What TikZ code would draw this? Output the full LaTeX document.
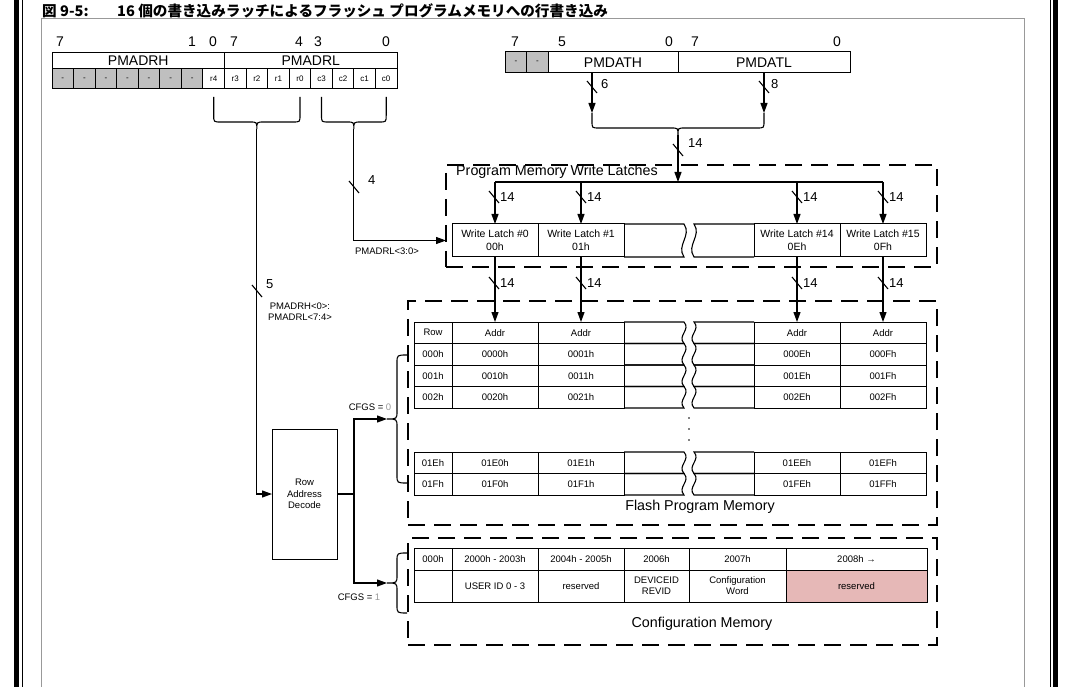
\documentclass[tikz,border=0pt]{standalone}
\usepackage{fontspec}
\setmainfont{Liberation Sans}
\newfontfamily\jafont{Noto Sans CJK JP}
\usepackage{xcolor}
\usepackage{tikz}
\usetikzlibrary{arrows.meta, positioning, calc}
\definecolor{cfgpink}{HTML}{E6B8B7}

\begin{document}
\begin{tikzpicture}[
    x=1pt, y=-1pt,
    line/.style={draw=black, line width=1.1pt},
    arrow/.style={line, -{Triangle[length=10pt, width=7pt]}},
    reg/.style={rectangle, draw=black, line width=1pt, inner sep=0pt, outer sep=0pt, font=\fontsize{14}{16}\selectfont},
    bit/.style={reg, fill=#1, minimum width=21.56pt, minimum height=20pt, font=\fontsize{8}{9}\selectfont},
    bit/.default=white,
    cell/.style={rectangle, draw=black, line width=1pt, inner sep=0pt, outer sep=0pt, align=center, font=\fontsize{9.5}{11}\selectfont},
    num/.style={inner sep=0pt, font=\fontsize{14}{16}\selectfont},
    wire/.style={inner sep=0pt, anchor=west, font=\fontsize{13}{15}\selectfont},
    note/.style={inner sep=0pt, align=center, font=\fontsize{9.5}{11}\selectfont},
    head/.style={inner sep=0pt, font=\fontsize{14.3}{16}\selectfont},
    dashbox/.style={rectangle, draw=black, line width=1.2pt, dash pattern=on 17pt off 9pt, inner sep=0pt, outer sep=0pt},
    title/.style={inner sep=0pt, anchor=west, font=\jafont\bfseries\fontsize{14.6}{16}\selectfont}
]
\useasboundingbox (0,0) rectangle (1074,687);

% page rules and figure frame
\fill (14,0) rectangle (18.5,687);
\fill (21.5,0) rectangle (23,687);
\fill (1049.5,0) rectangle (1051,687);
\fill (1053,0) rectangle (1057.5,687);
\draw[black!40, line width=1pt] (41,700) -- (41,19) -- (1024,19) -- (1024,700);

\node[title] (fignum) at (42,11) {図 9-5:};
\node[title] (figtitle) at (117,11) {16 個の書き込みラッチによるフラッシュ プログラムメモリへの行書き込み};

% address registers
\node[reg, minimum width=172.5pt, minimum height=16pt] (adrH) at (138.25,61) {PMADRH};
\node[reg, minimum width=172.5pt, minimum height=16pt] (adrL) at (310.75,61) {PMADRL};
\foreach \i in {0,...,6}
  \node[bit=black!25] (adr\i) at (62.78+21.5625*\i,79) {-};
\foreach \lab [count=\i from 7] in {r4,r3,r2,r1,r0,c3,c2,c1,c0}
  \node[bit] (adr\i) at (62.78+21.5625*\i,79) {\lab};

% data registers
\node[bit=black!25, minimum height=21pt] (dat0) at (516,62.5) {-};
\node[bit=black!25, minimum height=21pt] (dat1) at (537.5,62.5) {-};
\node[reg, minimum width=130pt, minimum height=21pt] (datH) at (613,62.5) {PMDATH};
\node[reg, minimum width=172pt, minimum height=21pt] (datL) at (764,62.5) {PMDATL};

\foreach \x/\t in {60/7,192/1,213/0,234/7,299/4,318/3,386/0,515/7,562/5,669/0,695/7,837/0}
  \node[num] (bn\x) at (\x,42) {\t};

% write latches
\node[dashbox, minimum width=491pt, minimum height=102pt] (wlbox) at (691.5,216) {};
\node[head, anchor=west] (wltitle) at (456,172) {Program Memory Write Latches};
\node[cell, minimum width=86pt, minimum height=33pt, font=\fontsize{10.5}{13}\selectfont] (l0) at (495,240.5) {Write Latch \#0\\00h};
\node[cell, minimum width=86pt, minimum height=33pt, font=\fontsize{10.5}{13}\selectfont] (l1) at (581,240.5) {Write Latch \#1\\01h};
\node[cell, minimum width=86pt, minimum height=33pt, font=\fontsize{10.5}{13}\selectfont] (l14) at (797,240.5) {Write Latch \#14\\0Eh};
\node[cell, minimum width=86pt, minimum height=33pt, font=\fontsize{10.5}{13}\selectfont] (l15) at (883,240.5) {Write Latch \#15\\0Fh};
\draw[line] (624,224) -- (684,224) .. controls (692,236) and (676,245) .. (684,257) -- (624,257);
\draw[line] (754,224) -- (694,224) .. controls (702,236) and (686,245) .. (694,257) -- (754,257);

% flash program memory
\node[dashbox, minimum width=529pt, minimum height=224pt] (fpm) at (672.5,413) {};
\node[head] (fpmtitle) at (700,507) {Flash Program Memory};
\foreach \yt/\a/\b/\c/\d/\e [count=\n] in {322/Row/Addr/Addr/Addr/Addr, 343.5/000h/0000h/0001h/000Eh/000Fh, 365/001h/0010h/0011h/001Eh/001Fh, 386.5/002h/0020h/0021h/002Eh/002Fh, 452/01Eh/01E0h/01E1h/01EEh/01EFh, 473.5/01Fh/01F0h/01F1h/01FEh/01FFh} {
  \node[cell, minimum width=38pt, minimum height=21.5pt] (f\n-0) at (433,\yt+10.75) {\a};
  \node[cell, minimum width=86pt, minimum height=21.5pt] (f\n-1) at (495,\yt+10.75) {\b};
  \node[cell, minimum width=86pt, minimum height=21.5pt] (f\n-2) at (581,\yt+10.75) {\c};
  \node[cell, minimum width=86pt, minimum height=21.5pt] (f\n-5) at (797,\yt+10.75) {\d};
  \node[cell, minimum width=86pt, minimum height=21.5pt] (f\n-6) at (883,\yt+10.75) {\e};
  \draw[line] (624,\yt) -- (684,\yt) .. controls (691,\yt+8) and (677,\yt+13.5) .. (684,\yt+21.5) -- (624,\yt+21.5);
  \draw[line] (754,\yt) -- (694,\yt) .. controls (701,\yt+8) and (687,\yt+13.5) .. (694,\yt+21.5) -- (754,\yt+21.5);
}
\foreach \y in {418,429,440}
  \fill (689,\y) circle (0.9pt);

% configuration memory
\node[dashbox, minimum width=529pt, minimum height=107pt] (cfm) at (672.5,591.5) {};
\node[head] (cfmtitle) at (702,624) {Configuration Memory};
\foreach \x/\w/\t [count=\n] in {433/38/000h, 495/86/2000h - 2003h, 581/86/2004h - 2005h, 656.5/65/2006h, 737.5/97/2007h, 856.5/141/2008h →}
  \node[cell, minimum width=\w pt, minimum height=22pt] (c\n-1) at (\x,559) {\t};
\foreach \x/\w/\t [count=\n] in {433/38/{}, 495/86/{USER ID 0 - 3}, 581/86/reserved, 656.5/65/{DEVICEID\\REVID}, 737.5/97/{Configuration\\Word}}
  \node[cell, minimum width=\w pt, minimum height=32pt] (c\n-2) at (\x,586) {\t};
\node[cell, fill=cfgpink, minimum width=141pt, minimum height=32pt] (c6-2) at (856.5,586) {reserved};

% row address decode
\node[cell, minimum width=65pt, minimum height=130pt, font=\fontsize{9.5}{11.7}\selectfont] (decode) at (304.5,494) {Row\\Address\\Decode};

% bus braces
\foreach \l/\r/\t/\h in {213.7/300/97/122, 321.5/386.2/97/122, 592/764/113/128}
  \draw[line] (\l,\t) -- (\l,\h-7) .. controls (\l,\h) .. (\l+7,\h) -- ({(\l+\r)/2-7},\h) .. controls ({(\l+\r)/2},\h) .. ({(\l+\r)/2},\h+7)
    .. controls ({(\l+\r)/2},\h) .. ({(\l+\r)/2+7},\h) -- (\r-7,\h) .. controls (\r,\h) .. (\r,\h-7) -- (\r,\t);
\foreach \t/\m/\b in {355/419/483, 553/583/613}
  \draw[line] (407,\t) .. controls (397,\t) .. (397,\t+8) -- (397,\m-8) .. controls (397,\m) .. (387,\m)
    .. controls (397,\m) .. (397,\m+8) -- (397,\b-8) .. controls (397,\b) .. (407,\b);

\coordinate (brA) at (256.85,129);
\coordinate (brB) at (353.85,129);
\coordinate (brD) at (678,135);
\coordinate (dH) at (592,113);
\coordinate (dL) at (764,113);
\coordinate (bus) at (678,182);
\coordinate (split) at (354,494);
\coordinate (tipF) at (387,419);
\coordinate (tipC) at (387,583);

% connectors
\draw[arrow] (datH.south -| dH) -- (dH);
\draw[arrow] (datL.south) -- (dL);
\draw[arrow] (brD) -- (bus);
\draw[line] (l0 |- bus) -- (l15 |- bus);
\foreach \n in {l0,l1,l14,l15}
  \draw[arrow] (\n |- bus) -- (\n.north);
\draw[arrow] (l0) -- (f1-1);
\draw[arrow] (l1) -- (f1-2);
\draw[arrow] (l14) -- (f1-5);
\draw[arrow] (l15) -- (f1-6);
\draw[arrow] (brB) |- (l0.west -| wlbox.west);
\draw[arrow] (brA) |- (decode.west);
\draw[line] (decode.east) -- (split);
\draw[arrow] (split) |- (tipF);
\draw[arrow] (split) |- (tipC);

% bus widths
\foreach \x/\y in {257/291, 354/187, 592/87, 764/87, 678/150, 494/197, 581/197, 797/197, 883/197, 494/283, 581/283, 797/283, 883/283}
  \draw[line] (\x,\y) +(-5,-6) -- +(5,6);
\node[wire] (w5) at (266,284) {5};
\node[wire] (w4) at (368,180) {4};
\node[wire] (w6) at (601,84) {6};
\node[wire] (w8) at (771,84) {8};
\node[wire] (w14) at (688,143) {14};
\foreach \x in {494,581,797,883} {
  \node[wire] (wa\x) at (\x+6,197) {14};
  \node[wire] (wb\x) at (\x+6,283) {14};
}

% signal names
\node[note] (adrl30) at (387,251) {PMADRL<3:0>};
\node[note] (adrh0) at (300,312) {PMADRH<0>:\\PMADRL<7:4>};
\node[note] (cfg0) at (370,407) {CFGS = \textcolor{black!40}{0}};
\node[note] (cfg1) at (359,597) {CFGS = \textcolor{black!40}{1}};
\end{tikzpicture}
\end{document}
